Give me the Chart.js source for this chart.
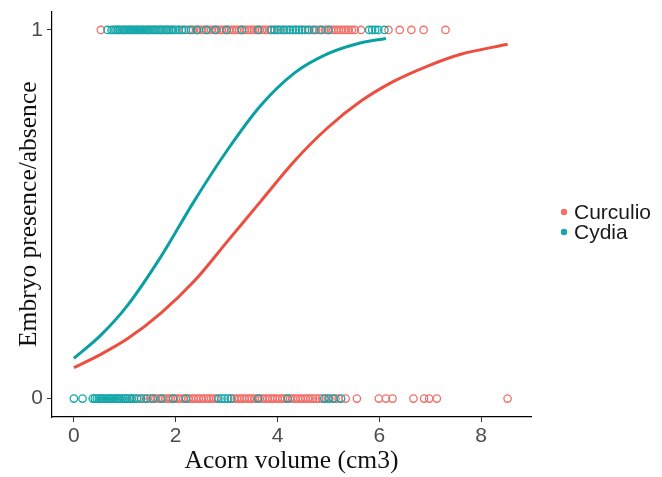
<!DOCTYPE html>
<html lang="en">

<head>
  <meta charset="UTF-8" />
  <title>Embryo presence by acorn volume</title>
  <script src="https://cdn.jsdelivr.net/npm/chart.js"></script>
  <style>
    html,
    body {
      margin: 0;
      padding: 0;
      background: #ffffff;
    }

    .chart-box {
      position: relative;
      width: 662px;
      height: 477px;
    }
  </style>
</head>

<body>

  <div class="chart-box">
    <canvas id="chart"></canvas>
  </div>

  <script>
    // acorn volumes of sampled acorns, split by weevil species and embryo state
    const curculioAbsent = [0.55, 0.72, 0.88, 1.02, 1.14, 1.24, 1.32, 1.38, 1.44, 1.5, 1.55, 1.6, 1.65, 1.7, 1.75,
      1.8, 1.85, 1.9, 1.95, 2.0, 2.05, 2.1, 2.15, 2.2, 2.25, 2.3, 2.35, 2.4, 2.45, 2.5, 2.55, 2.6, 2.65, 2.7, 2.75,
      2.8, 3.1, 3.15, 3.2, 3.25, 3.3, 3.35, 3.4, 3.45, 3.5, 3.55, 3.6, 3.65, 3.7, 3.75, 3.8, 3.85, 3.9, 3.95, 4.0,
      4.05, 4.1, 4.15, 4.2, 4.25, 4.3, 4.35, 4.4, 4.45, 4.5, 4.55, 4.6, 4.65, 4.7, 4.76, 4.82, 4.88, 4.95, 5.02,
      5.08, 5.14, 5.2, 5.34, 5.56, 5.99, 6.13, 6.26, 6.67, 6.88, 6.98, 7.13, 8.52];
    const curculioPresent = [0.53, 0.86, 0.98, 1.1, 1.22, 1.34, 1.46, 1.58, 1.7, 1.82, 1.94, 2.06, 2.16, 2.26, 2.34,
      2.4, 2.45, 2.5, 2.55, 2.6, 2.65, 2.7, 2.75, 2.8, 2.85, 2.9, 2.95, 3.0, 3.05, 3.1, 3.15, 3.2, 3.25, 3.3, 3.35,
      3.4, 3.45, 3.5, 3.55, 3.6, 3.65, 3.7, 3.75, 3.8, 3.86, 3.94, 4.02, 4.12, 4.24, 4.36, 4.48, 4.6, 4.68, 4.76,
      4.82, 4.88, 4.94, 5.0, 5.05, 5.1, 5.15, 5.2, 5.25, 5.3, 5.35, 5.4, 5.46, 5.52, 5.64, 6.18, 6.4, 6.63, 6.87, 7.3];
    const cydiaAbsent = [0.0, 0.17, 0.37, 0.41, 0.45, 0.49, 0.53, 0.57, 0.61, 0.65, 0.69, 0.73, 0.77, 0.81, 0.85,
      0.89, 0.93, 0.97, 1.01, 1.05, 1.09, 1.13, 1.18, 1.24, 1.32, 1.42, 1.55, 1.72, 1.95, 2.2, 2.84, 2.9, 2.96, 3.02,
      3.08, 3.62, 4.2, 4.92, 5.0, 5.1, 5.25];
    const cydiaPresent = [0.66, 0.74, 0.78, 0.82, 0.86, 0.9, 0.94, 0.98, 1.02, 1.06, 1.1, 1.14, 1.18, 1.22, 1.26,
      1.3, 1.34, 1.38, 1.42, 1.46, 1.5, 1.54, 1.58, 1.62, 1.66, 1.7, 1.74, 1.78, 1.82, 1.86, 1.9, 1.95, 2.0, 2.06,
      2.12, 2.2, 2.3, 2.42, 2.6, 2.78, 3.0, 3.3, 3.62, 3.88, 3.94, 4.0, 4.06, 4.12, 4.18, 4.24, 4.3, 4.36, 4.42, 4.48,
      4.54, 4.62, 4.72, 4.85, 5.0, 5.8, 5.86, 5.92, 5.98, 6.1];

    // fitted logistic curves, read at a handful of volumes
    const curculioFitX = [0, 0.53, 1.05, 1.71, 2.36, 3.02, 3.67, 4.33, 4.98, 5.64, 6.29, 6.95, 7.6, 8.52];
    const curculioFitY = [0.084, 0.12, 0.162, 0.232, 0.318, 0.427, 0.535, 0.644, 0.734, 0.807, 0.861, 0.902, 0.934, 0.961];
    const cydiaFitX = [0, 0.53, 1.05, 1.71, 2.36, 3.02, 3.67, 4.33, 4.98, 5.55, 6.13];
    const cydiaFitY = [0.109, 0.172, 0.252, 0.385, 0.535, 0.675, 0.795, 0.883, 0.935, 0.962, 0.977];

    const xTicks = [0, 2, 4, 6, 8];
    const yTicks = [0, 1];
    const species = ["Curculio", "Cydia"];

    const red = '#EA4F40';
    const teal = '#0A9FA0';
    const redPt = '#F0706A';
    const tealPt = '#13A9AB';

    function pts(xs, y) {
      return xs.map(x => ({ x: x, y: y }));
    }

    function curve(xs, ys) {
      return xs.map((x, i) => ({ x: x, y: ys[i] }));
    }

    function pointSet(xs, y, color) {
      return {
        data: pts(xs, y),
        showLine: false,
        pointStyle: 'circle',
        pointRadius: 3.7,
        pointBorderWidth: 1.3,
        pointBorderColor: color,
        pointBackgroundColor: 'rgba(0,0,0,0)',
        pointHoverRadius: 3.7
      };
    }

    function lineSet(xs, ys, color) {
      return {
        data: curve(xs, ys),
        showLine: true,
        borderColor: color,
        borderWidth: 3,
        pointRadius: 0,
        cubicInterpolationMode: 'monotone',
        fill: false
      };
    }

    // legend drawn by hand at the right of the panel
    const sideLegend = {
      id: 'sideLegend',
      afterDraw(chart) {
        const ctx = chart.ctx;
        const colors = [redPt, tealPt];
        ctx.save();
        ctx.font = '21px "Liberation Sans", Arial, sans-serif';
        ctx.textBaseline = 'middle';
        species.forEach((name, i) => {
          const y = 212 + i * 20;
          ctx.beginPath();
          ctx.arc(564, y, 3.2, 0, Math.PI * 2);
          ctx.fillStyle = colors[i];
          ctx.fill();
          ctx.fillStyle = '#1a1a1a';
          ctx.fillText(name, 574, y + 1);
        });
        ctx.restore();
      }
    };

    const tickFont = { family: '"Liberation Sans", Arial, sans-serif', size: 21 };
    const titleFont = { family: '"Liberation Serif", "Times New Roman", serif', size: 25.5 };

    new Chart(document.getElementById('chart'), {
      type: 'scatter',
      data: {
        // first dataset is painted last, so the curves sit on top
        datasets: [
          lineSet(curculioFitX, curculioFitY, red),
          lineSet(cydiaFitX, cydiaFitY, teal),
          pointSet(cydiaAbsent, 0, tealPt),
          pointSet(cydiaPresent, 1, tealPt),
          pointSet(curculioAbsent, 0, redPt),
          pointSet(curculioPresent, 1, redPt)
        ]
      },
      options: {
        responsive: true,
        maintainAspectRatio: false,
        animation: false,
        layout: {
          padding: { top: 11.5, right: 131, bottom: 0, left: 0 }
        },
        plugins: {
          legend: { display: false },
          tooltip: { enabled: false }
        },
        scales: {
          x: {
            type: 'linear',
            min: -0.43,
            max: 8.98,
            afterBuildTicks: scale => {
              scale.ticks = xTicks.map(v => ({ value: v }));
            },
            afterFit: scale => {
              scale.height = 60;
            },
            ticks: {
              font: tickFont,
              color: '#4D4D4D',
              padding: 2,
              maxRotation: 0
            },
            grid: {
              drawOnChartArea: false,
              tickLength: 5,
              tickColor: '#333333',
              tickWidth: 1
            },
            border: { display: true, color: '#000000', width: 1.2 },
            title: {
              display: true,
              text: 'Acorn volume (cm3)',
              font: titleFont,
              color: '#111111',
              padding: { top: 0, bottom: 0 }
            }
          },
          y: {
            type: 'linear',
            min: -0.05,
            max: 1.05,
            afterBuildTicks: scale => {
              scale.ticks = yTicks.map(v => ({ value: v }));
            },
            afterFit: scale => {
              scale.width = 52;
              // labels 0 and 1 sit inside the padded range, no extra room needed
              scale.paddingTop = 0;
              scale.paddingBottom = 0;
            },
            ticks: {
              font: tickFont,
              color: '#4D4D4D',
              padding: 4
            },
            grid: {
              drawOnChartArea: false,
              tickLength: 5,
              tickColor: '#333333',
              tickWidth: 1
            },
            border: { display: true, color: '#000000', width: 1.2 },
            title: {
              display: true,
              text: 'Embryo presence/absence',
              font: titleFont,
              color: '#111111',
              padding: { top: 14, bottom: 0 }
            }
          }
        }
      },
      plugins: [sideLegend]
    });
  </script>
</body>

</html>
